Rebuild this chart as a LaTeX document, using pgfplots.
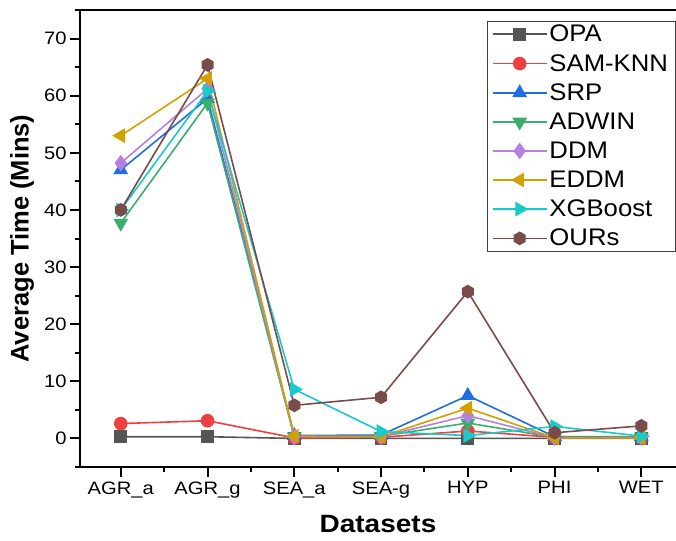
\documentclass[border=0pt]{standalone}
\usepackage{fontspec}
\setmainfont{Liberation Sans}[FakeStretch=1.12]
\newfontfamily\legendfont{Liberation Sans}[FakeStretch=1.07]
\newfontfamily\ylabelfont{Liberation Sans}
\usepackage{pgfplots}
\pgfplotsset{compat=1.18}

% filled hexagon mark for the OURs series
\pgfdeclareplotmark{hexagon*}{%
  \pgfpathmoveto{\pgfpointpolar{90}{\pgfplotmarksize}}%
  \pgfpathlineto{\pgfpointpolar{150}{\pgfplotmarksize}}%
  \pgfpathlineto{\pgfpointpolar{210}{\pgfplotmarksize}}%
  \pgfpathlineto{\pgfpointpolar{270}{\pgfplotmarksize}}%
  \pgfpathlineto{\pgfpointpolar{330}{\pgfplotmarksize}}%
  \pgfpathlineto{\pgfpointpolar{30}{\pgfplotmarksize}}%
  \pgfpathclose
  \pgfusepathqfillstroke}

\definecolor{cOPA}{HTML}{555555}
\definecolor{cSAM}{HTML}{EE4040}
\definecolor{cSRP}{HTML}{1F6FE0}
\definecolor{cADW}{HTML}{3AAE6C}
\definecolor{cDDM}{HTML}{B580E0}
\definecolor{cEDD}{HTML}{D4A000}
\definecolor{cXGB}{HTML}{18CACA}
\definecolor{cOUR}{HTML}{7A4B4B}

\begin{document}
\begin{tikzpicture}
\begin{axis}[
  name=ax,
  scale only axis,
  width=596pt, height=457pt,
  xmin=-0.47, xmax=6.40,
  ymin=-5, ymax=75,
  axis x line=box,
  axis y line*=left,
  axis line style={line width=2.5pt},
  xtick={0,1,2,3,4,5,6},
  minor xtick={0.5,1.5,2.5,3.5,4.5,5.5},
  xticklabels={AGR\_a,AGR\_g,SEA\_a,SEA-g,HYP,{\raisebox{-7pt}{PHI}},WET},
  ytick={0,10,20,30,40,50,60,70},
  minor ytick={-5,5,15,25,35,45,55,65,75},
  tick align=outside,
  x tick style={line width=2pt, draw=black},
  y tick style={line width=2pt, draw=black},
  major tick length=10pt,
  minor tick length=5pt,
  xtick pos=bottom,
  ytick pos=left,
  /pgf/number format/assume math mode=true,
  tick label style={font=\fontsize{18}{20}\selectfont},
  xticklabel style={yshift=-1pt},
  yticklabel style={xshift=0pt},
  xlabel={Datasets},
  ylabel={Average Time (Mins)},
  every axis x label/.style={at={(axis description cs:0.5,0)}, yshift=-57pt, anchor=center,
    font=\fontsize{25}{28}\selectfont\bfseries},
  every axis y label/.style={at={(axis description cs:0,0.5)}, xshift=-58pt, rotate=90, anchor=center,
    font=\ylabelfont\fontsize{25.5}{28}\selectfont\bfseries},
  legend style={at={(0.9985,0.976)}, anchor=north east, draw=black!75,
    font=\legendfont\fontsize{24}{26}\selectfont, row sep=7pt, inner xsep=5pt, inner ysep=2pt,
    cells={anchor=west}},
  legend image code/.code={%
    \draw[line width=1.6pt, mark repeat=2, mark phase=2]
      plot coordinates {(0pt,0pt) (27pt,0pt) (54pt,0pt)};},
  every axis plot/.append style={line width=1.6pt},
]
\addplot[cOPA, mark=square*, mark size=5.5pt] coordinates {(0,0.3) (1,0.3) (2,0.0) (3,0.0) (4,0.0) (5,0.0) (6,0.0)};
\addlegendentry{OPA}
\addplot[cSAM, mark=*, mark size=6pt] coordinates {(0,2.6) (1,3.1) (2,0.1) (3,0.2) (4,1.3) (5,0.2) (6,0.1)};
\addlegendentry{SAM-KNN}
\addplot[cSRP, mark=triangle*, mark size=7pt] coordinates {(0,47.0) (1,59.5) (2,0.5) (3,0.6) (4,7.5) (5,0.3) (6,0.3)};
\addlegendentry{SRP}
\addplot[cADW, mark=triangle*, mark size=7pt, mark options={rotate=180}] coordinates {(0,37.7) (1,58.7) (2,0.3) (3,0.4) (4,2.7) (5,0.2) (6,0.2)};
\addlegendentry{ADWIN}
\addplot[cDDM, mark=diamond*, mark size=7pt] coordinates {(0,48.2) (1,61.2) (2,0.3) (3,0.3) (4,4.0) (5,0.1) (6,0.2)};
\addlegendentry{DDM}
\addplot[cEDD, mark=triangle*, mark size=7pt, mark options={rotate=90}] coordinates {(0,53.0) (1,63.0) (2,0.4) (3,0.3) (4,5.3) (5,0.1) (6,0.1)};
\addlegendentry{EDDM}
\addplot[cXGB, mark=triangle*, mark size=7pt, mark options={rotate=-90}] coordinates {(0,40.0) (1,60.8) (2,8.6) (3,1.2) (4,0.5) (5,2.1) (6,0.4)};
\addlegendentry{XGBoost}
\addplot[cOUR, mark=hexagon*, mark size=6pt] coordinates {(0,40.0) (1,65.4) (2,5.8) (3,7.2) (4,25.7) (5,1.0) (6,2.2)};
\addlegendentry{OURs}
\end{axis}
\pgfresetboundingbox
\path[use as bounding box] ([xshift=-80pt,yshift=-73pt]ax.south west) rectangle ([yshift=10pt]ax.north east);
\end{tikzpicture}
\end{document}
